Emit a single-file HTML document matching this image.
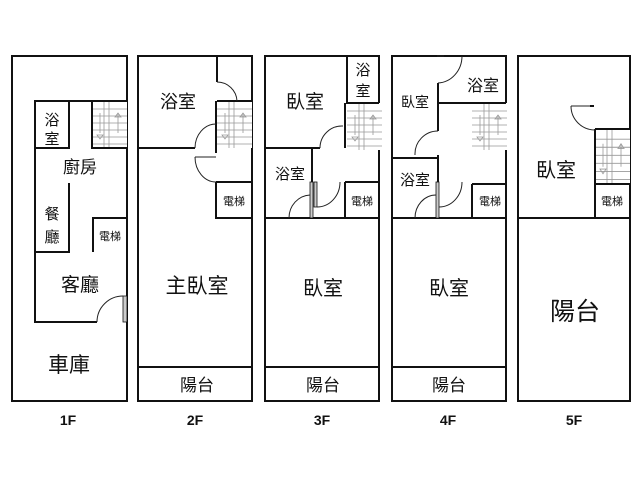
<!DOCTYPE html>
<html><head><meta charset="utf-8"><style>
html,body{margin:0;padding:0;background:#fff;}
svg{display:block;}
text{font-family:"Liberation Sans","Noto Sans CJK TC",sans-serif;fill:#111;}
.w{stroke:#111;stroke-width:2;fill:none;}
.a{stroke:#222;stroke-width:1;fill:none;}
.s{stroke:#999;stroke-width:0.8;fill:none;}
.p{fill:#ccc;stroke:#111;stroke-width:0.8;}
.fl{font-weight:bold;font-size:14px;}
</style></head><body>
<svg width="640" height="480" viewBox="0 0 640 480" xmlns="http://www.w3.org/2000/svg">
<defs>
<g id="st">
<rect x="0" y="0" width="35" height="47" fill="#fff" stroke="none"/>
<path class="s" d="M0 8H35M0 15H35M0 22H35M0 29H35M0 36H35M0 43H35M17 0V47M12 0V47"/>
<path class="s" d="M8 12V32M26 12V32"/>
<path class="s" d="M5 34l3 4 3-4zM23 16l3-4 3 4z"/>
</g>
</defs>

<!-- 1F -->
<rect class="w" x="12" y="56" width="115" height="345"/>
<use href="#st" x="92" y="101"/>
<path class="w" d="M127 101H35V322H97M35 148H69V101M92 101V148H127M69 183V252H35M93 252V218H127"/>
<rect class="p" x="123" y="296" width="4" height="26"/>
<path class="a" d="M97 322A26 26 0 0 1 123 296"/>
<text x="52" y="125" font-size="15" text-anchor="middle">浴</text>
<text x="52" y="144" font-size="15" text-anchor="middle">室</text>
<text x="80" y="173" font-size="17" text-anchor="middle">廚房</text>
<text x="52" y="219" font-size="15" text-anchor="middle">餐</text>
<text x="52" y="242" font-size="15" text-anchor="middle">廳</text>
<text x="110" y="240" font-size="11" text-anchor="middle">電梯</text>
<text x="80" y="291" font-size="19" text-anchor="middle">客廳</text>
<text x="69" y="372" font-size="21" text-anchor="middle">車庫</text>
<text class="fl" x="68" y="425" text-anchor="middle">1F</text>

<!-- 2F -->
<rect class="w" x="138" y="56" width="114" height="345"/>
<use href="#st" x="217" y="101"/>
<path class="w" d="M217 56V82M217 101H252M216 101V153M138 148H195M216 182V218H252M216 182H252M138 367H252"/>
<path class="a" d="M217 82A20 20 0 0 1 237 101M195 148A21 24 0 0 1 216 124M195 157H216M195 157A21 25 0 0 0 216 182"/>
<text x="178" y="108" font-size="18" text-anchor="middle">浴室</text>
<text x="234" y="205" font-size="11" text-anchor="middle">電梯</text>
<text x="197" y="293" font-size="21" text-anchor="middle">主臥室</text>
<text x="197" y="391" font-size="17" text-anchor="middle">陽台</text>
<text class="fl" x="195" y="425" text-anchor="middle">2F</text>

<!-- 3F -->
<rect class="w" x="265" y="56" width="114" height="345"/>
<use href="#st" x="347" y="103"/>
<path class="w" d="M347 56V103H379M345 103V148M265 148H320M312 148V182M265 218H379M345 182H379V218M345 182V218M265 367H379"/>
<rect class="p" x="310" y="182" width="3" height="36"/>
<rect class="p" x="314" y="182" width="3" height="25"/>
<path class="a" d="M289 218A22 23 0 0 1 310 195M317 207A23 25 0 0 0 340 182M320 148A22 22 0 0 1 343 126"/>
<text x="305" y="108" font-size="19" text-anchor="middle">臥室</text>
<text x="363" y="75" font-size="15" text-anchor="middle">浴</text>
<text x="363" y="96" font-size="15" text-anchor="middle">室</text>
<text x="290" y="179" font-size="15" text-anchor="middle">浴室</text>
<text x="362" y="205" font-size="11" text-anchor="middle">電梯</text>
<text x="323" y="295" font-size="20" text-anchor="middle">臥室</text>
<text x="323" y="391" font-size="17" text-anchor="middle">陽台</text>
<text class="fl" x="322" y="425" text-anchor="middle">3F</text>

<!-- 4F -->
<rect class="w" x="392" y="56" width="114" height="345"/>
<use href="#st" x="472" y="103"/>
<path class="w" d="M438 83V131M438 103H506M438 155V218M392 158H438M392 218H506M472 184H506M472 184V218M392 367H506"/>
<rect class="p" x="436" y="182" width="3" height="36"/>
<path class="a" d="M437 56H444M462 56A25 27 0 0 1 438 83M438 131A23 23 0 0 0 415 155M415 218A21 23 0 0 1 436 195M439 207A23 25 0 0 0 462 182"/>
<text x="415" y="107" font-size="14" text-anchor="middle">臥室</text>
<text x="483" y="91" font-size="16" text-anchor="middle">浴室</text>
<text x="415" y="185" font-size="15" text-anchor="middle">浴室</text>
<text x="490" y="205" font-size="11" text-anchor="middle">電梯</text>
<text x="449" y="295" font-size="20" text-anchor="middle">臥室</text>
<text x="449" y="391" font-size="17" text-anchor="middle">陽台</text>
<text class="fl" x="448" y="425" text-anchor="middle">4F</text>

<!-- 5F -->
<rect class="w" x="518" y="56" width="112" height="345"/>
<use href="#st" x="595" y="130" transform="translate(595 130) scale(1 1.15) translate(-595 -130)"/>
<path class="w" d="M595 129H630M595 129V218M595 184H630M518 218H630"/>
<path class="a" d="M571 106H591M571 106A24 24 0 0 0 595 130"/>
<path class="w" d="M590 106H594"/>
<text x="556" y="177" font-size="20" text-anchor="middle">臥室</text>
<text x="612" y="205" font-size="11" text-anchor="middle">電梯</text>
<text x="575" y="320" font-size="25" text-anchor="middle">陽台</text>
<text class="fl" x="574" y="425" text-anchor="middle">5F</text>
</svg>
</body></html>
